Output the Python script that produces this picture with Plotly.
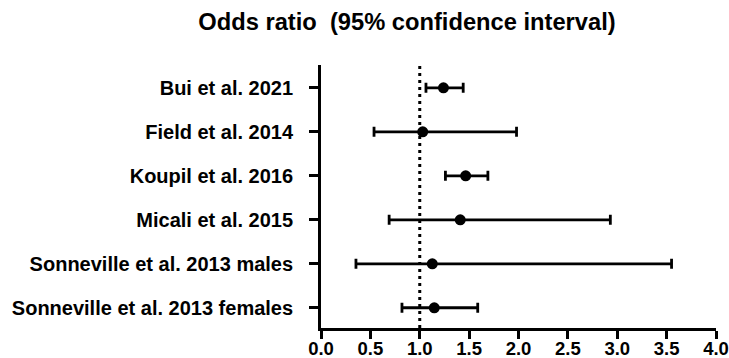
import plotly.graph_objects as go

studies = [
    "Bui et al. 2021",
    "Field et al. 2014",
    "Koupil et al. 2016",
    "Micali et al. 2015",
    "Sonneville et al. 2013 males",
    "Sonneville et al. 2013 females",
]
odds_ratio = [1.24, 1.03, 1.465, 1.41, 1.127, 1.147]
ci_lower = [1.063, 0.537, 1.26, 0.69, 0.354, 0.82]
ci_upper = [1.44, 1.98, 1.69, 2.93, 3.55, 1.587]
x_ticks = [0.0, 0.5, 1.0, 1.5, 2.0, 2.5, 3.0, 3.5, 4.0]
ref_value = 1.0

pos = list(range(len(studies)))
err_plus = [u - o for u, o in zip(ci_upper, odds_ratio)]
err_minus = [o - l for o, l in zip(odds_ratio, ci_lower)]

font_family = "Liberation Sans, Arial, sans-serif"

fig = go.Figure()
fig.add_trace(go.Scatter(
    x=odds_ratio, y=pos, mode="markers",
    marker=dict(color="black", size=11, symbol="circle"),
    error_x=dict(type="data", symmetric=False, array=err_plus, arrayminus=err_minus,
                 color="black", thickness=2.8, width=5),
    showlegend=False,
))

fig.add_shape(type="line", xref="x", yref="paper", x0=ref_value, x1=ref_value, y0=0, y1=1,
              line=dict(color="black", width=3, dash="3px,4px"), layer="below")

fig.update_layout(
    width=729, height=358,
    margin=dict(l=321, r=13, t=65, b=30),
    paper_bgcolor="white", plot_bgcolor="white",
    title=dict(text="<b>Odds ratio  (95% confidence interval)</b>",
               x=407 / 729, xanchor="center", y=1 - 22 / 358, yanchor="middle",
               font=dict(family=font_family, size=23.7, color="black")),
    xaxis=dict(range=[0, 4], tickvals=x_ticks, automargin=False,
               ticktext=["<b>%.1f</b>" % v for v in x_ticks],
               showgrid=False, zeroline=False, showline=True, linecolor="black", linewidth=2.8,
               ticks="outside", ticklen=8, tickwidth=2.6, tickcolor="black", ticklabelstandoff=-6,
               tickfont=dict(family=font_family, size=18.5, color="black")),
    yaxis=dict(range=[5.46, -0.52], tickvals=pos, automargin=False,
               ticktext=["<b>%s</b>" % s for s in studies],
               showgrid=False, zeroline=False, showline=True, linecolor="black", linewidth=2.8,
               ticks="outside", ticklen=9, tickwidth=2.6, tickcolor="black", ticklabelstandoff=12,
               tickfont=dict(family=font_family, size=20, color="black")),
)

fig.write_html("out.html")
